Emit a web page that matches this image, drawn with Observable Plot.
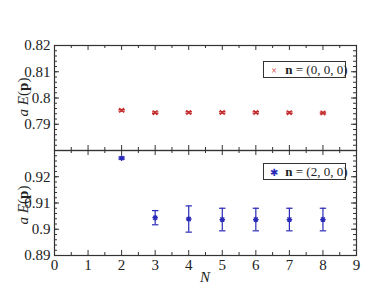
<!DOCTYPE html>
<html><head><meta charset="utf-8">
<script src="https://cdn.jsdelivr.net/npm/d3@7"></script>
<script src="https://cdn.jsdelivr.net/npm/@observablehq/plot@0.6"></script>
<style>
html,body{margin:0;padding:0;background:#fff;}
#wrap{position:relative;width:390px;height:302px;font-family:"Liberation Serif","Times New Roman",Times,serif;color:#222;}
#wrap svg{position:absolute;left:0;overflow:visible;}
.lab{position:absolute;font-size:15px;white-space:nowrap;}
.leg{position:absolute;border:1px solid #333;background:#fff;font-size:13px;line-height:15px;box-sizing:border-box;white-space:nowrap;}
</style></head>
<body><div id="wrap"></div>
<script>
// ---- data ----
const N = [2, 3, 4, 5, 6, 7, 8];
const E0 = [0.7953, 0.7944, 0.7945, 0.7945, 0.7945, 0.7944, 0.7943];
const E0err = [0.0003, 0.0003, 0.0003, 0.0003, 0.0003, 0.0003, 0.0003];
const E2 = [0.9271, 0.9044, 0.9039, 0.9037, 0.9037, 0.9037, 0.9037];
const E2err = [0.0004, 0.0027, 0.0050, 0.0043, 0.0043, 0.0043, 0.0043];
const xTicks = [0, 1, 2, 3, 4, 5, 6, 7, 8, 9];
const yTicksTop = [0.79, 0.8, 0.81, 0.82];
const yTicksBot = [0.89, 0.9, 0.91, 0.92];

const red = "#c42a2a", blue = "#2a2ab8", axisCol = "#333";
const W = 390, ML = 54, MR = 34, FW = W - ML - MR;
const serif = '"Liberation Serif", "Times New Roman", Times, serif';

const capSym = {draw(ctx){ ctx.moveTo(-3.2,0); ctx.lineTo(3.2,0); }};
const timesSym = {draw(ctx){ const r = 2.3; ctx.moveTo(-r,-r); ctx.lineTo(r,r); ctx.moveTo(-r,r); ctx.lineTo(r,-r); }};
const starSym = {draw(ctx){ const r = 2.8, q = r*0.72;
  ctx.moveTo(-r,0); ctx.lineTo(r,0); ctx.moveTo(0,-r); ctx.lineTo(0,r);
  ctx.moveTo(-q,-q); ctx.lineTo(q,q); ctx.moveTo(-q,q); ctx.lineTo(q,-q); }};

function rows(vals, errs){ return N.map((n,i)=>({n, v:vals[i], lo:vals[i]-errs[i], hi:vals[i]+errs[i]})); }
const minorX = d3.range(0.5, 9, 1);

// inward tick segments from each frame edge; pixel length converted to data units
function tickSegs(vals, dom, perPx, len){
  return vals.flatMap(v => [{v, a: dom[0], b: dom[0] + len*perPx}, {v, a: dom[1], b: dom[1] - len*perPx}]);
}

function panel({data, color, sym, yDomain, yTicks, yMinor, height, mt, mb, showX}){
  const xDomain = [0, 9];
  const FH = height - mt - mb;
  const yPx = (yDomain[1] - yDomain[0]) / FH, xPx = (xDomain[1] - xDomain[0]) / FW;
  const t = {stroke: "#333", strokeWidth: 1};
  return Plot.plot({
    width: W, height, marginLeft: ML, marginRight: MR, marginTop: mt, marginBottom: mb,
    style: {fontFamily: serif, fontSize: "15px", color: "#222", background: "transparent"},
    x: {domain: xDomain, axis: null},
    y: {domain: yDomain, axis: null},
    marks: [
      Plot.frame({stroke: axisCol, strokeWidth: 1.2, fill: "none"}),
      Plot.ruleX(tickSegs(xTicks, yDomain, yPx, 5), {...t, x: "v", y1: "a", y2: "b"}),
      Plot.ruleX(tickSegs(minorX, yDomain, yPx, 3), {...t, x: "v", y1: "a", y2: "b"}),
      Plot.ruleY(tickSegs(yTicks, xDomain, xPx, 5), {...t, y: "v", x1: "a", x2: "b"}),
      Plot.ruleY(tickSegs(yMinor, xDomain, xPx, 3), {...t, y: "v", x1: "a", x2: "b"}),
      showX ? Plot.axisX({ticks: xTicks, anchor: "bottom", tickSize: 0, tickPadding: 4, tickFormat: d=>String(d), label: null, fill: "#222", fontSize: 15}) : null,
      Plot.axisY({ticks: yTicks, anchor: "left", tickSize: 0, tickPadding: 4, tickFormat: d=>String(+d.toFixed(2)), label: null, fill: "#222", fontSize: 15}),
      Plot.ruleX(data, {x: "n", y1: "lo", y2: "hi", stroke: color, strokeWidth: 1.2}),
      Plot.dot(data, {x: "n", y: "lo", symbol: capSym, fill: "none", stroke: color, strokeWidth: 1.2}),
      Plot.dot(data, {x: "n", y: "hi", symbol: capSym, fill: "none", stroke: color, strokeWidth: 1.2}),
      Plot.dot(data, {x: "n", y: "v", symbol: sym, fill: "none", stroke: color, strokeWidth: 1.3})
    ]
  });
}

const wrap = document.getElementById("wrap");
const topPanel = panel({data: rows(E0, E0err), color: red, sym: timesSym,
  yDomain: [0.78, 0.82], yTicks: yTicksTop, yMinor: d3.range(0.782, 0.8195, 0.002),
  height: 151, mt: 45, mb: 1, showX: false});
topPanel.style.top = "0px";
const botPanel = panel({data: rows(E2, E2err), color: blue, sym: starSym,
  yDomain: [0.89, 0.93], yTicks: yTicksBot, yMinor: d3.range(0.892, 0.9295, 0.002),
  height: 152, mt: 1, mb: 46, showX: true});
botPanel.style.top = "149px";
wrap.appendChild(topPanel); wrap.appendChild(botPanel);

function add(html, cls, css){ const d = document.createElement("div"); d.className = cls; d.innerHTML = html; Object.assign(d.style, css); wrap.appendChild(d); return d; }
const ylab = '<i>a</i> <i>E</i>(<b>p</b>)';
add(ylab, "lab", {left: "23px", top: "97px", transform: "translate(-50%,-50%) rotate(-90deg)"});
add(ylab, "lab", {left: "23px", top: "205px", transform: "translate(-50%,-50%) rotate(-90deg)"});
add('<i>N</i>', "lab", {left: "205px", top: "277px", transform: "translate(-50%,-50%)"});
add(`<span style="color:${red};font-size:10px;display:inline-block;width:16px;text-align:center">×</span> <b>n</b> = (0, 0, 0)`, "leg",
  {left: "263px", top: "61px", width: "83px", height: "17px", padding: "0 0 0 2px"});
add(`<span style="color:${blue};font-size:10px;display:inline-block;width:16px;text-align:center">✱</span> <b>n</b> = (2, 0, 0)`, "leg",
  {left: "263px", top: "163px", width: "83px", height: "17px", padding: "0 0 0 2px"});
</script></body></html>
